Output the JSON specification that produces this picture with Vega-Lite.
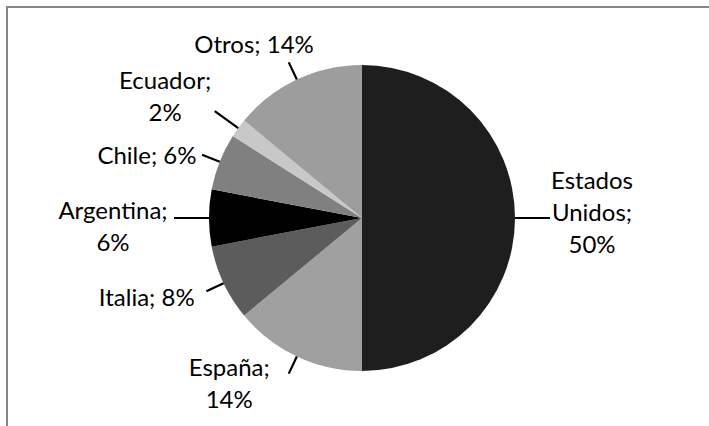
{
  "$schema": "https://vega.github.io/schema/vega-lite/v6.json",
  "width": 710,
  "height": 422,
  "autosize": {"type": "none"},
  "padding": {"left": 7, "top": 7, "right": 0, "bottom": 0},
  "background": "white",
  "view": {"stroke": "#868686", "strokeWidth": 2},
  "config": {
    "view": {"stroke": "#868686", "strokeWidth": 2},
    "text": {"font": "Lato", "fontSize": 24, "lineHeight": 32, "lineBreak": "\n", "fill": "#000000"}
  },
  "data": {
    "values": [
      {"pais": "Estados Unidos", "valor": 50, "orden": 1, "etiqueta": "Estados\nUnidos;\n50%"},
      {"pais": "España", "valor": 14, "orden": 2, "etiqueta": "España;\n14%"},
      {"pais": "Italia", "valor": 8, "orden": 3, "etiqueta": "Italia; 8%"},
      {"pais": "Argentina", "valor": 6, "orden": 4, "etiqueta": "Argentina;\n6%"},
      {"pais": "Chile", "valor": 6, "orden": 5, "etiqueta": "Chile; 6%"},
      {"pais": "Ecuador", "valor": 2, "orden": 6, "etiqueta": "Ecuador;\n2%"},
      {"pais": "Otros", "valor": 14, "orden": 7, "etiqueta": "Otros; 14%"}
    ]
  },
  "encoding": {
    "theta": {"field": "valor", "type": "quantitative", "stack": true},
    "order": {"field": "orden", "type": "quantitative", "sort": "ascending"}
  },
  "layer": [
    {
      "mark": {"type": "arc", "radius": 153},
      "encoding": {
        "color": {
          "field": "pais",
          "type": "nominal",
          "scale": {
            "domain": ["Estados Unidos", "España", "Italia", "Argentina", "Chile", "Ecuador", "Otros"],
            "range": ["#1e1e1e", "#a0a0a0", "#5c5c5c", "#000000", "#808080", "#c8c8c8", "#9d9d9d"]
          },
          "legend": null
        }
      }
    },
    {
      "mark": {"type": "arc", "radius": 188, "radius2": 153, "padAngle": 3.14159, "fill": null, "fillOpacity": 0, "stroke": "#000000", "strokeWidth": 2.2},
      "encoding": {"strokeOpacity": {"condition": {"test": "datum.pais === 'Estados Unidos' || datum.pais === 'Argentina'", "value": 1}, "value": 0}}
    },
    {
      "mark": {"type": "arc", "radius": 172, "radius2": 153, "padAngle": 3.14159, "fill": null, "fillOpacity": 0, "stroke": "#000000", "strokeWidth": 2.2},
      "encoding": {"strokeOpacity": {"condition": {"test": "datum.pais === 'España' || datum.pais === 'Italia' || datum.pais === 'Chile' || datum.pais === 'Otros'", "value": 1}, "value": 0}}
    },
    {
      "mark": {"type": "arc", "radius": 182, "radius2": 153, "padAngle": 3.14159, "fill": null, "fillOpacity": 0, "stroke": "#000000", "strokeWidth": 2.2},
      "encoding": {"strokeOpacity": {"condition": {"test": "datum.pais === 'Ecuador'", "value": 1}, "value": 0}}
    },
    {
      "mark": {"type": "text", "radius": 230, "align": "center", "baseline": "middle", "dy": -36},
      "encoding": {"text": {"condition": {"test": "datum.pais === 'Estados Unidos'", "field": "etiqueta"}, "value": ""}}
    },
    {
      "mark": {"type": "text", "radius": 185, "align": "center", "baseline": "middle", "dx": -54, "dy": -16},
      "encoding": {"text": {"condition": {"test": "datum.pais === 'España'", "field": "etiqueta"}, "value": ""}}
    },
    {
      "mark": {"type": "text", "radius": 186, "align": "right", "baseline": "middle", "dx": 1, "dy": 2},
      "encoding": {"text": {"condition": {"test": "datum.pais === 'Italia'", "field": "etiqueta"}, "value": ""}}
    },
    {
      "mark": {"type": "text", "radius": 249, "align": "center", "baseline": "middle", "dy": -6},
      "encoding": {"text": {"condition": {"test": "datum.pais === 'Argentina'", "field": "etiqueta"}, "value": ""}}
    },
    {
      "mark": {"type": "text", "radius": 178, "align": "right", "baseline": "middle", "dy": 5},
      "encoding": {"text": {"condition": {"test": "datum.pais === 'Chile'", "field": "etiqueta"}, "value": ""}}
    },
    {
      "mark": {"type": "text", "radius": 231, "align": "center", "baseline": "middle", "dx": -10, "dy": 0},
      "encoding": {"text": {"condition": {"test": "datum.pais === 'Ecuador'", "field": "etiqueta"}, "value": ""}}
    },
    {
      "mark": {"type": "text", "radius": 190, "align": "center", "baseline": "middle", "dx": -27, "dy": 0},
      "encoding": {"text": {"condition": {"test": "datum.pais === 'Otros'", "field": "etiqueta"}, "value": ""}}
    }
  ]
}
